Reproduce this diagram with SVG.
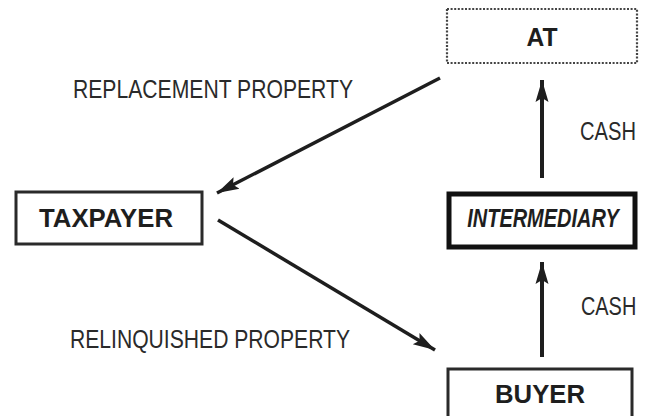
<svg xmlns="http://www.w3.org/2000/svg" width="649" height="416" viewBox="0 0 649 416">
<defs>
<style>
.lbl{font-family:"Liberation Sans",Arial,sans-serif;font-size:25.5px;fill:#2a2a2a}
.node{font-family:"Liberation Sans",Arial,sans-serif;font-size:26px;font-weight:bold;fill:#1e1e1e;text-anchor:middle}
.box{fill:#fff;stroke:#2a2a2a}
.conn{stroke:#1e1e1e;fill:none}
</style>
<marker id="ah" markerUnits="userSpaceOnUse" markerWidth="24" markerHeight="16" refX="22" refY="8" orient="auto">
<path d="M0,1.5 L22,8 L0,14.5 L4,8 Z" fill="#1e1e1e"/>
</marker>
</defs>
<rect width="649" height="416" fill="#fff"/>
<g id="AT">
<rect x="447" y="9" width="190" height="54" fill="#fff" stroke="#444" stroke-width="2.2" stroke-dasharray="2 1.6"/>
<text class="node" x="542" y="46" textLength="31" lengthAdjust="spacingAndGlyphs">AT</text>
</g>
<g id="TAXPAYER">
<rect class="box" x="16" y="192" width="186" height="52" stroke-width="3"/>
<text class="node" x="106" y="227" textLength="134" lengthAdjust="spacingAndGlyphs">TAXPAYER</text>
</g>
<g id="INTERMEDIARY">
<rect class="box" x="449" y="194" width="186" height="53" stroke-width="5" style="stroke:#111"/>
<text class="node" transform="translate(543,227) scale(0.768,1)" x="0" y="0" font-style="italic">INTERMEDIARY</text>
</g>
<g id="BUYER">
<rect class="box" x="448" y="369" width="184" height="60" stroke-width="3"/>
<text class="node" x="540" y="403" textLength="90" lengthAdjust="spacingAndGlyphs">BUYER</text>
</g>
<g id="connectors">
<line class="conn" x1="440" y1="78" x2="217" y2="193" stroke-width="3.5" marker-end="url(#ah)"/>
<line class="conn" x1="218" y1="220" x2="435" y2="350" stroke-width="3.5" marker-end="url(#ah)"/>
<line class="conn" x1="542" y1="178" x2="542" y2="80" stroke-width="4" marker-end="url(#ah)"/>
<line class="conn" x1="542" y1="357" x2="542" y2="262" stroke-width="4" marker-end="url(#ah)"/>
</g>
<g id="labels">
<text class="lbl" x="73" y="98" textLength="280" lengthAdjust="spacingAndGlyphs">REPLACEMENT PROPERTY</text>
<text class="lbl" x="70" y="348" textLength="280" lengthAdjust="spacingAndGlyphs">RELINQUISHED PROPERTY</text>
<text class="lbl" transform="translate(580,140) scale(0.79,1)" x="0" y="0">CASH</text>
<text class="lbl" transform="translate(581,315) scale(0.78,1)" x="0" y="0">CASH</text>
</g>
</svg>
